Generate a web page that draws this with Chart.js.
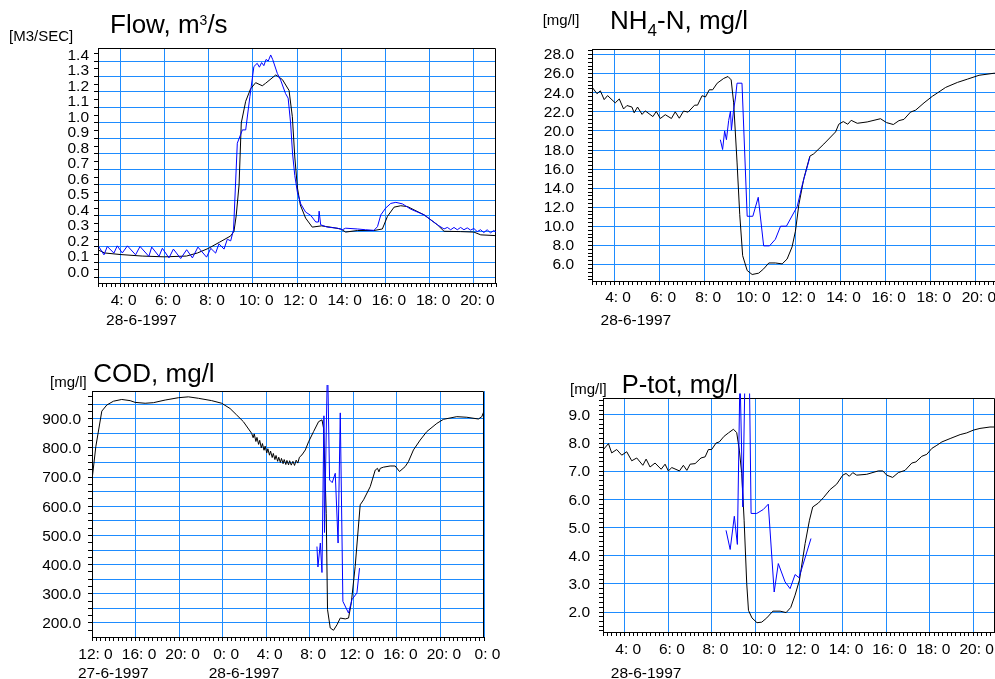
<!DOCTYPE html>
<html>
<head>
<meta charset="utf-8">
<script src="https://cdn.jsdelivr.net/npm/chart.js@4/dist/chart.umd.min.js"></script>
<style>
html, body { margin: 0; padding: 0; width: 995px; height: 679px; overflow: hidden; background: #fff; }
body { position: relative; font-family: "Liberation Sans", Arial, sans-serif; }
canvas { position: absolute; }
.t { position: absolute; white-space: nowrap; color: #000; }
.t sub, .t sup { line-height: 0; }
</style>
</head>
<body>
<canvas id="flow" width="510" height="307" style="left:0;top:28px"></canvas>
<canvas id="nh4" width="510" height="309" style="left:500px;top:26px"></canvas>
<canvas id="cod" width="510" height="308" style="left:0;top:371px"></canvas>
<canvas id="ptot" width="510" height="301" style="left:500px;top:378px"></canvas>

<div class="t" style="left:110px;top:11px;font-size:26px;line-height:26px">Flow, m<sup style="font-size:14px;vertical-align:8px">3</sup>/s</div>
<div class="t" style="left:9px;top:27.5px;font-size:15px;line-height:15px">[M3/SEC]</div>
<div class="t" style="left:610px;top:7.3px;font-size:26px;line-height:26px">NH<sub style="font-size:17px;vertical-align:-6.7px">4</sub>-N, mg/l</div>
<div class="t" style="left:542.7px;top:12.4px;font-size:15px;line-height:15px">[mg/l]</div>
<div class="t" style="left:93.3px;top:359.7px;font-size:26px;line-height:26px">COD, mg/l</div>
<div class="t" style="left:50px;top:374.2px;font-size:15px;line-height:15px">[mg/l]</div>
<div class="t" style="left:621.7px;top:372.4px;font-size:25.5px;line-height:25.5px">P-tot, mg/l</div>
<div class="t" style="left:570px;top:380.8px;font-size:15px;line-height:15px">[mg/l]</div>

<script>
// ---- data (hours from 0:00 on 28-6-1997) ----
const flowSimT = [3.0, 3.3, 4.0, 5.0, 6.0, 7.0, 7.5, 8.0, 8.5, 9.0, 9.15, 9.25, 9.38, 9.48, 9.68, 9.9, 10.13, 10.43, 10.58, 11.04, 11.34, 11.64, 11.79, 11.9, 12.02, 12.15, 12.39, 12.69, 13.1, 13.5, 13.98, 14.2, 14.73, 15.48, 15.86, 16.09, 16.39, 16.69, 16.99, 17.75, 18.35, 18.65, 19.4, 20.0, 20.31, 21.0];
const flowSimV = [0.18, 0.16, 0.15, 0.14, 0.135, 0.14, 0.16, 0.19, 0.23, 0.27, 0.3, 0.4, 0.6, 1.0, 1.14, 1.22, 1.26, 1.24, 1.256, 1.31, 1.28, 1.21, 1.04, 0.78, 0.58, 0.47, 0.385, 0.327, 0.335, 0.327, 0.315, 0.295, 0.305, 0.305, 0.315, 0.396, 0.456, 0.465, 0.46, 0.406, 0.342, 0.3, 0.298, 0.295, 0.277, 0.272];
const flowObsT = [3.04, 3.27, 3.42, 3.72, 3.87, 4.1, 4.33, 4.7, 4.9, 5.3, 5.43, 5.76, 5.91, 6.21, 6.41, 6.74, 7.01, 7.27, 7.52, 7.91, 8.1, 8.32, 8.47, 8.7, 8.85, 9.0, 9.13, 9.3, 9.53, 9.68, 9.87, 10.05, 10.2, 10.3, 10.4, 10.5, 10.6, 10.7, 10.81, 10.9, 11.11, 11.26, 11.48, 11.6, 11.71, 11.8, 11.9, 12.02, 12.17, 12.39, 12.62, 12.85, 12.97, 13.0, 13.07, 13.37, 13.83, 14.05, 14.2, 14.73, 15.1, 15.48, 15.64, 15.79, 16.01, 16.24, 16.47, 16.77, 17.14, 17.75, 18.35, 18.65, 18.8, 18.95, 19.1, 19.25, 19.4, 19.55, 19.7, 19.85, 20.0, 20.15, 20.3, 20.45, 20.6, 20.75, 20.9, 21.05];
const flowObsV = [0.2, 0.148, 0.202, 0.159, 0.206, 0.16, 0.206, 0.148, 0.202, 0.138, 0.198, 0.138, 0.19, 0.128, 0.185, 0.124, 0.181, 0.128, 0.198, 0.133, 0.19, 0.159, 0.219, 0.185, 0.249, 0.238, 0.309, 0.869, 0.955, 0.955, 1.17, 1.364, 1.385, 1.36, 1.39, 1.37, 1.41, 1.4, 1.439, 1.41, 1.32, 1.277, 1.19, 1.16, 1.0, 0.8, 0.66, 0.55, 0.477, 0.424, 0.403, 0.36, 0.36, 0.43, 0.342, 0.327, 0.32, 0.31, 0.32, 0.315, 0.31, 0.306, 0.33, 0.406, 0.45, 0.48, 0.487, 0.477, 0.443, 0.406, 0.342, 0.315, 0.325, 0.31, 0.325, 0.31, 0.325, 0.31, 0.322, 0.308, 0.318, 0.298, 0.31, 0.292, 0.31, 0.29, 0.305, 0.29];

const nh4SimT = [3.0, 3.22, 3.37, 3.54, 3.69, 4.03, 4.21, 4.4, 4.55, 4.77, 4.87, 5.02, 5.22, 5.36, 5.7, 5.85, 6.03, 6.25, 6.52, 6.69, 6.87, 7.06, 7.26, 7.55, 7.68, 7.88, 8.03, 8.2, 8.35, 8.55, 8.84, 9.03, 9.17, 9.28, 9.43, 9.55, 9.68, 9.88, 10.1, 10.39, 10.61, 10.84, 11.13, 11.43, 11.65, 11.87, 12.02, 12.17, 12.39, 12.66, 12.83, 13.28, 13.8, 13.94, 14.14, 14.34, 14.49, 14.76, 15.2, 15.79, 16.06, 16.36, 16.61, 16.83, 17.12, 17.35, 17.72, 18.09, 18.31, 18.68, 19.2, 19.64, 20.16, 20.82, 21.0];
const nh4SimV = [24.6, 23.9, 24.2, 23.28, 23.7, 22.94, 23.35, 22.3, 22.66, 22.5, 21.9, 22.5, 21.73, 22.1, 21.5, 22.04, 21.3, 21.7, 21.3, 22.0, 21.33, 22.08, 21.97, 22.7, 22.7, 23.69, 23.56, 24.31, 24.31, 25.0, 25.5, 25.7, 25.35, 22.94, 16.74, 11.23, 6.93, 5.38, 4.96, 5.1, 5.55, 6.17, 6.17, 6.07, 6.58, 7.85, 9.5, 12.27, 15.0, 17.36, 17.6, 18.63, 19.9, 20.7, 20.98, 20.7, 21.11, 20.8, 20.94, 21.28, 20.87, 20.67, 21.08, 21.21, 21.97, 22.18, 22.94, 23.63, 23.97, 24.56, 25.08, 25.42, 25.83, 26.04, 26.04];
const nh4ObsT = [8.69, 8.79, 8.88, 8.96, 9.06, 9.14, 9.18, 9.28, 9.36, 9.43, 9.65, 9.88, 10.13, 10.37, 10.61, 10.87, 11.13, 11.36, 11.62, 12.1, 12.32, 12.66];
const nh4ObsV = [19.08, 18.05, 20.0, 19.08, 21.1, 22.08, 20.08, 22.25, 23.45, 25.0, 25.0, 11.06, 11.06, 13.05, 7.96, 7.96, 8.65, 10.02, 10.02, 12.1, 14.33, 17.26];

const codSimT = [-12.0, -11.65, -11.1, -10.64, -10.03, -9.27, -8.5, -8.04, -7.12, -6.36, -5.28, -4.06, -3.15, -2.23, -1.01, -0.09, 0.68, 1.28, 1.9, 2.66, 2.8, 2.9, 3.05, 3.15, 3.3, 3.4, 3.55, 3.65, 3.8, 3.9, 4.05, 4.15, 4.3, 4.4, 4.55, 4.65, 4.8, 4.9, 5.05, 5.15, 5.3, 5.4, 5.55, 5.65, 5.8, 5.9, 6.05, 6.15, 6.3, 6.45, 6.6, 6.75, 6.9, 7.05, 7.28, 7.59, 7.89, 8.35, 8.81, 9.12, 9.27, 9.51, 9.63, 9.88, 10.18, 10.5, 10.8, 11.26, 11.56, 11.81, 12.17, 12.63, 12.94, 13.55, 14.01, 14.22, 14.35, 14.47, 14.77, 15.38, 15.84, 16.24, 16.76, 17.06, 17.52, 18.14, 18.75, 19.67, 20.28, 21.5, 22.42, 23.49, 23.8, 24.04];
const codSimV = [690, 804, 926, 947, 960, 966, 962, 956, 953, 955, 964, 972, 975, 970, 962, 953, 935, 913, 890, 850, 835, 848, 822, 836, 812, 826, 800, 815, 792, 806, 783, 797, 775, 789, 767, 781, 760, 774, 754, 768, 750, 764, 746, 760, 743, 757, 742, 756, 741, 754, 740, 758, 748, 768, 776, 793, 821, 856, 890, 896, 867, 576, 246, 183, 175, 194, 217, 214, 217, 268, 394, 605, 622, 667, 724, 730, 718, 730, 734, 738, 738, 719, 736, 753, 793, 827, 856, 884, 898, 907, 905, 899, 907, 930];
const codObsT = [8.66, 8.75, 8.97, 9.12, 9.3, 9.35, 9.63, 9.82, 10.06, 10.34, 10.6, 10.8, 11.04, 11.56, 11.87, 12.33, 12.57];
const codObsV = [462, 392, 474, 373, 910, 510, 1100, 690, 681, 713, 474, 920, 274, 234, 280, 303, 388];

const pSimT = [2.87, 3.02, 3.25, 3.4, 3.63, 3.86, 4.09, 4.32, 4.55, 4.83, 4.98, 5.16, 5.39, 5.67, 5.85, 6.0, 6.16, 6.51, 6.69, 6.85, 7.0, 7.23, 7.5, 7.69, 7.84, 7.99, 8.19, 8.34, 8.56, 8.76, 8.99, 9.14, 9.26, 9.37, 9.48, 9.6, 9.68, 9.84, 10.07, 10.29, 10.52, 10.8, 11.13, 11.41, 11.62, 11.82, 12.02, 12.28, 12.48, 12.63, 12.89, 13.12, 13.43, 13.73, 14.01, 14.16, 14.31, 14.47, 14.65, 15.11, 15.64, 15.85, 16.03, 16.3, 16.56, 16.87, 17.18, 17.37, 17.64, 17.87, 18.1, 18.33, 18.56, 18.94, 19.4, 19.7, 20.01, 20.31, 20.77, 21.0];
const pSimV = [8.04, 7.77, 7.98, 7.65, 7.77, 7.57, 7.69, 7.37, 7.47, 7.21, 7.43, 7.15, 7.29, 7.07, 7.25, 7.01, 7.13, 7.01, 7.21, 7.03, 7.25, 7.27, 7.47, 7.51, 7.77, 7.77, 8.0, 8.04, 8.24, 8.36, 8.49, 8.37, 7.75, 6.92, 5.26, 3.01, 2.06, 1.79, 1.62, 1.64, 1.79, 2.03, 2.03, 1.98, 2.16, 2.6, 3.13, 4.43, 5.26, 5.73, 5.87, 6.06, 6.35, 6.54, 6.86, 6.92, 6.82, 6.95, 6.86, 6.89, 7.01, 7.01, 6.86, 6.78, 6.95, 7.03, 7.29, 7.33, 7.53, 7.6, 7.81, 7.92, 8.04, 8.16, 8.3, 8.36, 8.46, 8.52, 8.57, 8.57];
const pObsT = [8.65, 8.84, 9.03, 9.17, 9.29, 9.42, 9.52, 9.72, 9.8, 10.06, 10.36, 10.59, 10.86, 11.05, 11.36, 11.59, 11.82, 12.0, 12.55];
const pObsV = [4.9, 4.22, 5.4, 4.4, 10.5, 5.73, 10.5, 10.5, 5.5, 5.5, 5.64, 5.83, 2.71, 3.72, 3.07, 2.83, 3.33, 3.22, 4.61];

// tick labels
const hourTicks = [4, 6, 8, 10, 12, 14, 16, 18, 20];
const codHourTicks = [-12, -8, -4, 0, 4, 8, 12, 16, 20, 24];
const flowYTicks = [0.0, 0.1, 0.2, 0.3, 0.4, 0.5, 0.6, 0.7, 0.8, 0.9, 1.0, 1.1, 1.2, 1.3, 1.4];
const nh4YTicks = [6, 8, 10, 12, 14, 16, 18, 20, 22, 24, 26, 28];
const codYTicks = [200, 300, 400, 500, 600, 700, 800, 900];
const codYGrid = [200, 250, 300, 350, 400, 450, 500, 550, 600, 650, 700, 750, 800, 850, 900, 950];
const pYTicks = [2, 3, 4, 5, 6, 7, 8, 9];
const dayLabel = '28-6-1997';
const codDayLabels = ['27-6-1997', '28-6-1997'];

const GRID = '#1e8cff';
const FONT = { family: 'Liberation Sans', size: 15.5 };

function pts(t, v) { return t.map((x, i) => ({ x, y: v[i] })); }

function tickList(min, max, step, grid, labels) {
  const out = [];
  const first = Math.ceil(min / step - 1e-9), last = Math.floor(max / step + 1e-9);
  for (let k = first; k <= last; k++) {
    const v = +(k * step).toFixed(6);
    out.push({
      value: v,
      grid: grid.some(m => Math.abs(m - v) < 1e-6),
      lab: labels.some(m => Math.abs(m - v) < 1e-6)
    });
  }
  return out;
}

const hourFmt = v => (((v % 24) + 24) % 24) + ': 0';
const valFmt = v => v.toFixed(1);

function axis(pos, min, max, ticks, size, pad, offset, fmt) {
  return {
    type: 'linear', position: pos, min, max,
    afterBuildTicks: s => { s.ticks = ticks.map(t => ({ value: t.value, grid: t.grid, lab: t.lab })); },
    afterFit: s => { if (pos === 'left') s.width = size; else s.height = size; },
    grid: {
      color: c => (c.tick && c.tick.grid ? GRID : 'rgba(0,0,0,0)'),
      tickColor: '#000', tickLength: 4, lineWidth: 1
    },
    border: { color: '#000', width: 1 },
    ticks: {
      autoSkip: false, maxRotation: 0, minRotation: 0, padding: pad, labelOffset: offset,
      color: '#000', font: FONT,
      callback: (v, i, ts) => (ts[i] && ts[i].lab ? fmt(v) : '')
    }
  };
}

const framePlugin = {
  id: 'frame',
  beforeDatasetsDraw(chart) {
    const a = chart.chartArea, ctx = chart.ctx;
    ctx.save();
    ctx.strokeStyle = '#000'; ctx.lineWidth = 1;
    const l = Math.round(a.left) + 0.5, t = Math.round(a.top) + 0.5;
    const r = Math.round(a.right) - 0.5, b = Math.round(a.bottom) + 0.5;
    ctx.beginPath();
    ctx.moveTo(l, t); ctx.lineTo(r, t); ctx.lineTo(r, b);
    ctx.stroke();
    ctx.restore();
  },
  afterDraw(chart, args, opts) {
    const ctx = chart.ctx, xs = chart.scales.x;
    ctx.save();
    ctx.font = '15.5px "Liberation Sans"';
    ctx.fillStyle = '#000'; ctx.textAlign = 'left'; ctx.textBaseline = 'alphabetic';
    opts.items.forEach(d => ctx.fillText(d.text, xs.getPixelForValue(d.at) - 14, chart.chartArea.bottom + opts.dy));
    ctx.restore();
  }
};

function makeChart(id, c) {
  new Chart(document.getElementById(id), {
    type: 'line',
    data: {
      datasets: [
        { data: pts(c.obsT, c.obsV), borderColor: '#0000ff', borderWidth: 1, clip: { left: 0, top: c.clipTop, right: 0, bottom: 0 } },
        { data: pts(c.simT, c.simV), borderColor: '#000', borderWidth: 1 }
      ]
    },
    options: {
      responsive: false, animation: false, events: [],
      layout: { padding: { top: 20, right: c.padRight, left: 0, bottom: 0 } },
      elements: { point: { radius: 0 }, line: { tension: 0 } },
      plugins: { legend: { display: false }, tooltip: { enabled: false }, frame: { items: c.dates, dy: c.dateDy } },
      scales: {
        x: axis('bottom', c.xMin, c.xMax, c.xTicks, c.xH, c.xPad, 3.5, hourFmt),
        y: axis('left', c.yMin, c.yMax, c.yTicks, c.yW, c.yPad, c.yOff, valFmt)
      }
    },
    plugins: [framePlugin]
  });
}

makeChart('flow', {
  simT: flowSimT, simV: flowSimV, obsT: flowObsT, obsV: flowObsV, clipTop: 1,
  xMin: 3, xMax: 21, xTicks: tickList(3, 21, 0.2, hourTicks, hourTicks), xH: 52, xPad: 4,
  yMin: -0.034, yMax: 1.484, yTicks: tickList(-0.034, 1.484, 0.05, flowYTicks, flowYTicks), yW: 98, yPad: 5, yOff: -5.3,
  padRight: 14, dates: [{ at: 4, text: dayLabel }], dateDy: 42
});

makeChart('nh4', {
  simT: nh4SimT, simV: nh4SimV, obsT: nh4ObsT, obsV: nh4ObsV, clipTop: 1,
  xMin: 3, xMax: 21, xTicks: tickList(3, 21, 0.2, hourTicks, hourTicks), xH: 54, xPad: 3,
  yMin: 4.28, yMax: 28.55, yTicks: tickList(4.28, 28.55, 0.4, nh4YTicks, nh4YTicks), yW: 92, yPad: 14, yOff: 0.5,
  padRight: 12, dates: [{ at: 4, text: dayLabel }], dateDy: 44
});

makeChart('cod', {
  simT: codSimT, simV: codSimV, obsT: codObsT, obsV: codObsV, clipTop: 6,
  xMin: -12, xMax: 24, xTicks: tickList(-12, 24, 0.4, codHourTicks, codHourTicks), xH: 42, xPad: 4,
  yMin: 152, yMax: 995, yTicks: tickList(152, 995, 25, codYGrid, codYTicks), yW: 92, yPad: 7, yOff: 1,
  padRight: 26, dates: [{ at: -12, text: codDayLabels[0] }, { at: 0, text: codDayLabels[1] }], dateDy: 41
});

makeChart('ptot', {
  simT: pSimT, simV: pSimV, obsT: pObsT, obsV: pObsV, clipTop: 4.5,
  xMin: 3, xMax: 21, xTicks: tickList(3, 21, 0.2, hourTicks, hourTicks), xH: 47, xPad: 4,
  yMin: 1.29, yMax: 9.6, yTicks: tickList(1.29, 9.6, 1 / 6, pYTicks, pYTicks), yW: 103, yPad: 9, yOff: 1,
  padRight: 15, dates: [{ at: 4, text: dayLabel }], dateDy: 46
});
</script>
</body>
</html>
